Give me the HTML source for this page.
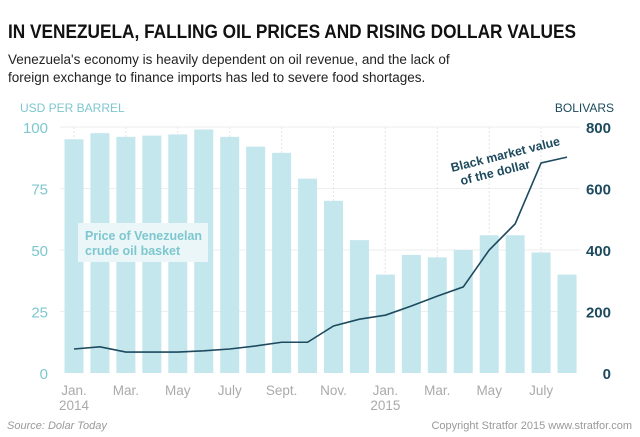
<!DOCTYPE html>
<html><head><meta charset="utf-8"><style>
body{margin:0;width:640px;height:437px;background:#fff;font-family:"Liberation Sans",sans-serif;overflow:hidden;position:relative}
.s{position:absolute;left:8px;top:51px;font-size:13.5px;line-height:18px;color:#222}
</style></head><body>
<div class="s">Venezuela's economy is heavily dependent on oil revenue, and the lack of<br>foreign exchange to finance imports has led to severe food shortages.</div>
<svg id="c" width="640" height="437" style="position:absolute;left:0;top:0">
<text x="8" y="38" font-size="19" font-weight="bold" fill="#111" textLength="568" lengthAdjust="spacingAndGlyphs">IN VENEZUELA, FALLING OIL PRICES AND RISING DOLLAR VALUES</text>
</svg>
<script>
const months=["Jan. 2014","Feb.","Mar.","Apr.","May","June","July","Aug.","Sept.","Oct.","Nov.","Dec.","Jan. 2015","Feb.","Mar.","Apr.","May","June","July","Aug."];
const oilPrice=[95,97.5,96,96.5,97,99,96,92,89.5,79,70,54,40,48,47,50,56,56,49,40];
const dollarValue=[78,85,68,68,68,72,78,88,100,100,153,175,188,218,250,280,400,485,683,702];
const leftTicks=[0,25,50,75,100];
const rightTicks=[0,200,400,600,800];
const xLabels=[[0,"Jan.","2014"],[2,"Mar.",""],[4,"May",""],[6,"July",""],[8,"Sept.",""],[10,"Nov.",""],[12,"Jan.","2015"],[14,"Mar.",""],[16,"May",""],[18,"July",""]];
const NS="http://www.w3.org/2000/svg",svg=document.getElementById('c');
const x0=74,step=25.95,yb=373,yt=127;
const X=i=>x0+i*step, YL=v=>yb-(v/100)*(yb-yt), YR=v=>yb-(v/800)*(yb-yt);
function mk(t,a,txt){const e=document.createElementNS(NS,t);for(const k in a)e.setAttribute(k,a[k]);if(txt!=null)e.textContent=txt;svg.appendChild(e);return e;}
leftTicks.forEach((v,i)=>{
 if(v>0){const g=mk('line',{x1:60,x2:580,y1:YL(v),y2:YL(v),stroke:'#eee','stroke-width':1});
 
 }
 const t=mk('text',{x:48,y:YL(v)+6,'text-anchor':'end','font-size':15,fill:'#7ec7cf'},v);
 
 
});
xLabels.forEach(l=>{
 const g=mk('line',{x1:X(l[0]),x2:X(l[0]),y1:yt,y2:yb,stroke:'#e6e6e6','stroke-dasharray':'2,2'});
 
 
});
oilPrice.forEach((v,i)=>{
 const r=mk('rect',{x:X(i)-9.5,y:YL(v),width:19,height:yb-YL(v),fill:'#c4e7ed'});
 
 
});
rightTicks.forEach(v=>{
 const t=mk('text',{x:611,y:YR(v)+6,'text-anchor':'end','font-size':15,'font-weight':'bold',fill:'#1d4a5e'},v);
 
 
});
xLabels.forEach(l=>{
 const t=mk('text',{x:X(l[0]),y:395,'text-anchor':'middle','font-size':13.5,fill:'#aaa'},l[1]);
 
 
 if(l[2]){const t2=mk('text',{x:X(l[0]),y:410,'text-anchor':'middle','font-size':13.5,fill:'#aaa'},l[2]);
 
 }
});
const p=mk('polyline',{points:dollarValue.map((v,i)=>X(i)+','+YR(v)).join(' '),fill:'none',stroke:'#1d4a5e','stroke-width':1.6});


const a=mk('text',{x:20,y:112,'font-size':12,fill:'#7ec7cf'},'USD PER BARREL');

const b=mk('text',{x:614,y:112,'text-anchor':'end','font-size':12,fill:'#1d4a5e'},'BOLIVARS');

const bx=mk('rect',{x:78,y:223,width:130,height:39,fill:'#eaf6f8'});

const l1=mk('text',{x:85,y:240,'font-size':12.5,'font-weight':'bold',fill:'#7ec7cf',textLength:117,lengthAdjust:'spacingAndGlyphs'},'Price of Venezuelan');

const l2=mk('text',{x:85,y:255,'font-size':12.5,'font-weight':'bold',fill:'#7ec7cf'},'crude oil basket');

const g=mk('g',{transform:'rotate(-14 452 172)'});

[['Black market value',452,172,112],['of the dollar',458,187,0]].forEach(s=>{const e=document.createElementNS(NS,'text');e.setAttribute('x',s[1]);e.setAttribute('y',s[2]);e.setAttribute('font-size',12.5);e.setAttribute('font-weight','bold');e.setAttribute('fill','#1d4a5e');if(s[3]){e.setAttribute('textLength',s[3]);e.setAttribute('lengthAdjust','spacingAndGlyphs');}e.textContent=s[0];g.appendChild(e);});
const sr=mk('text',{x:7,y:429,'font-size':11,'font-style':'italic',fill:'#999'},'Source: Dolar Today');

const cp=mk('text',{x:632,y:429,'text-anchor':'end','font-size':11,fill:'#999'},'Copyright Stratfor 2015   www.stratfor.com');

</script>
</body></html>
